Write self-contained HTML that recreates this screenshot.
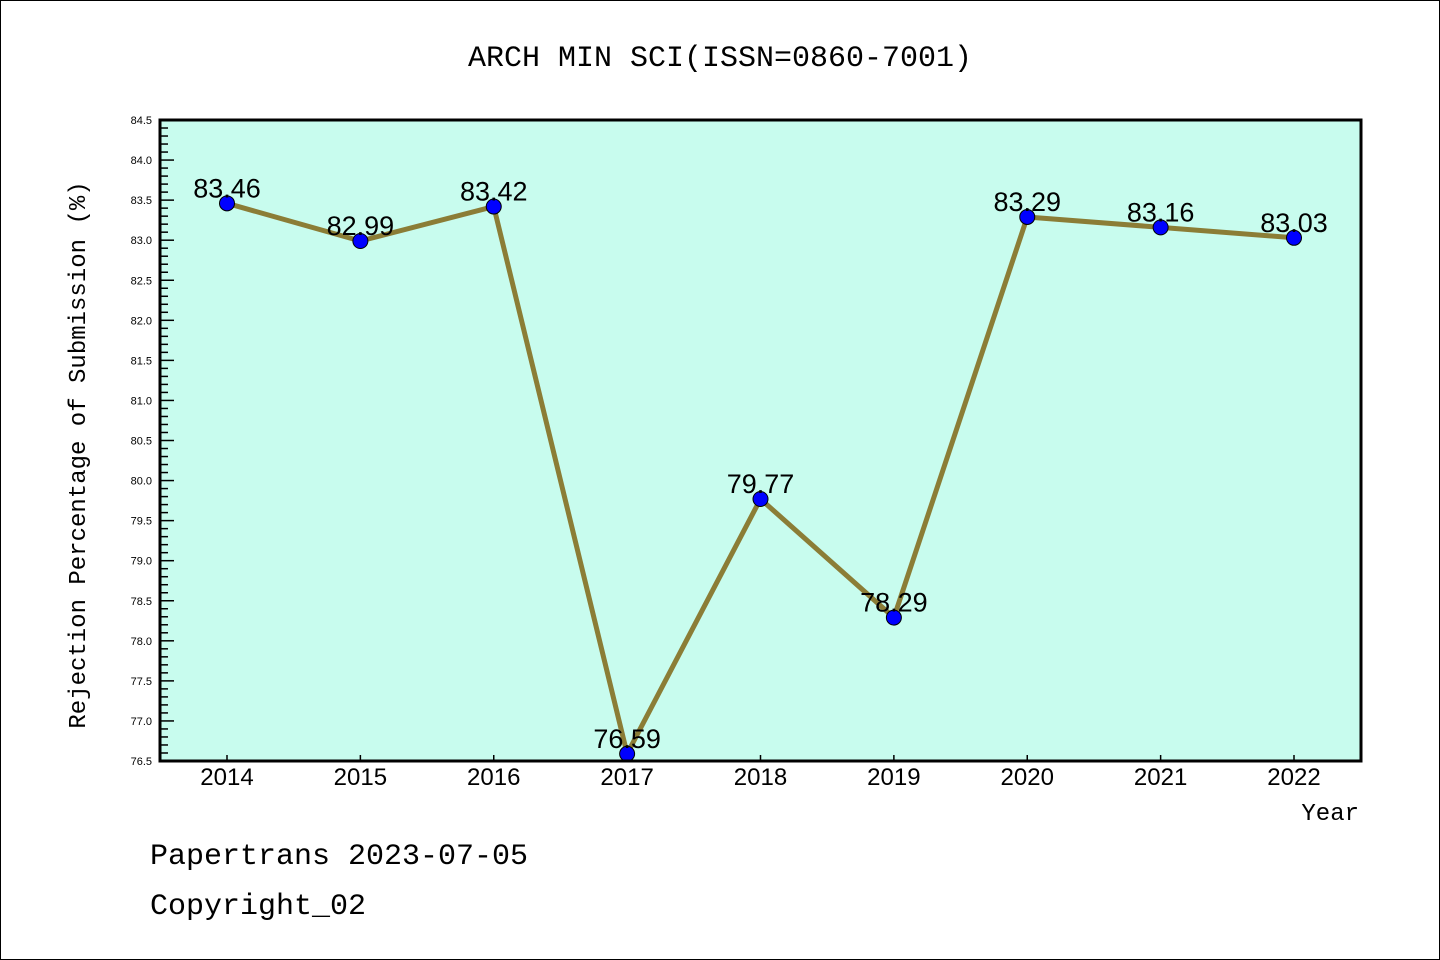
<!DOCTYPE html>
<html><head><meta charset="utf-8"><style>
body{margin:0;background:#fff}
svg{display:block;font-family:"Liberation Mono","DejaVu Sans Mono",monospace}
</style></head><body>
<svg width="1440" height="960" id="chart">
<rect x="0.5" y="0.5" width="1439" height="959" fill="#fff" stroke="#000"/>
<text x="720" y="66" text-anchor="middle" font-size="30">ARCH MIN SCI(ISSN=0860-7001)</text>
<rect x="160" y="120" width="1201" height="641" fill="#c8fcee"/>
<g id="yaxis"></g>
<g id="xaxis"></g>
<g id="series"></g>
<rect x="160" y="120" width="1201" height="641" fill="none" stroke="#000" stroke-width="3"/>
<text transform="translate(85,455) rotate(-90)" text-anchor="middle" font-size="24">Rejection Percentage of Submission (%)</text>
<text x="1359" y="820" text-anchor="end" font-size="24">Year</text>
<text x="150" y="864" font-size="30">Papertrans 2023-07-05</text>
<text x="150" y="914" font-size="30">Copyright_02</text>
</svg>
<script>
const years=["2014","2015","2016","2017","2018","2019","2020","2021","2022"];
const values=[83.46,82.99,83.42,76.59,79.77,78.29,83.29,83.16,83.03];
const labels=["83.46","82.99","83.42","76.59","79.77","78.29","83.29","83.16","83.03"];
const yTicks=["76.5","77.0","77.5","78.0","78.5","79.0","79.5","80.0","80.5","81.0","81.5","82.0","82.5","83.0","83.5","84.0","84.5"];
const yMin=76.5,yMax=84.5;
const NS="http://www.w3.org/2000/svg";
function y(v){return 761-(v-yMin)/(yMax-yMin)*641;}
function x(i){return 227+i*133.375;}
function mk(t,a,p){const e=document.createElementNS(NS,t);for(const k in a)e.setAttribute(k,a[k]);p.appendChild(e);return e;}
const ya=document.getElementById('yaxis'),xa=document.getElementById('xaxis'),se=document.getElementById('series');
for(let k=0;k<=80;k++){const v=yMin+k*0.1;const major=k%5===0;
 const l=mk('line',{x1:160,x2:160+(major?14:8),y1:y(v),y2:y(v),stroke:'#000','stroke-width':1.5},ya);
 
 }
yTicks.forEach(t=>{const e=mk('text',{x:152,y:y(parseFloat(t))+4,'text-anchor':'end','font-size':11,'font-family':'Liberation Sans, sans-serif'},ya);e.textContent=t;
 
 });
years.forEach((yr,i)=>{const l=mk('line',{x1:x(i),x2:x(i),y1:761,y2:755,stroke:'#000','stroke-width':1.5},xa);
 
 
 const t=mk('text',{x:x(i),y:785,'text-anchor':'middle','font-size':24,'font-family':'Liberation Sans, sans-serif'},xa);t.textContent=yr;
 
 });
const pl=mk('polyline',{points:values.map((v,i)=>x(i)+','+y(v)).join(' '),fill:'none',stroke:'#8b7d36','stroke-width':5,'stroke-linejoin':'round'},se);


values.forEach((v,i)=>{const c=mk('circle',{cx:x(i),cy:y(v),r:7.5,fill:'#0000ff',stroke:'#000','stroke-width':1},se);
 
 
 const t=mk('text',{x:x(i),y:y(v)-6,'text-anchor':'middle','font-size':27,'font-family':'Liberation Sans, sans-serif'},se);t.textContent=labels[i];
 
 });
</script>
</body></html>
